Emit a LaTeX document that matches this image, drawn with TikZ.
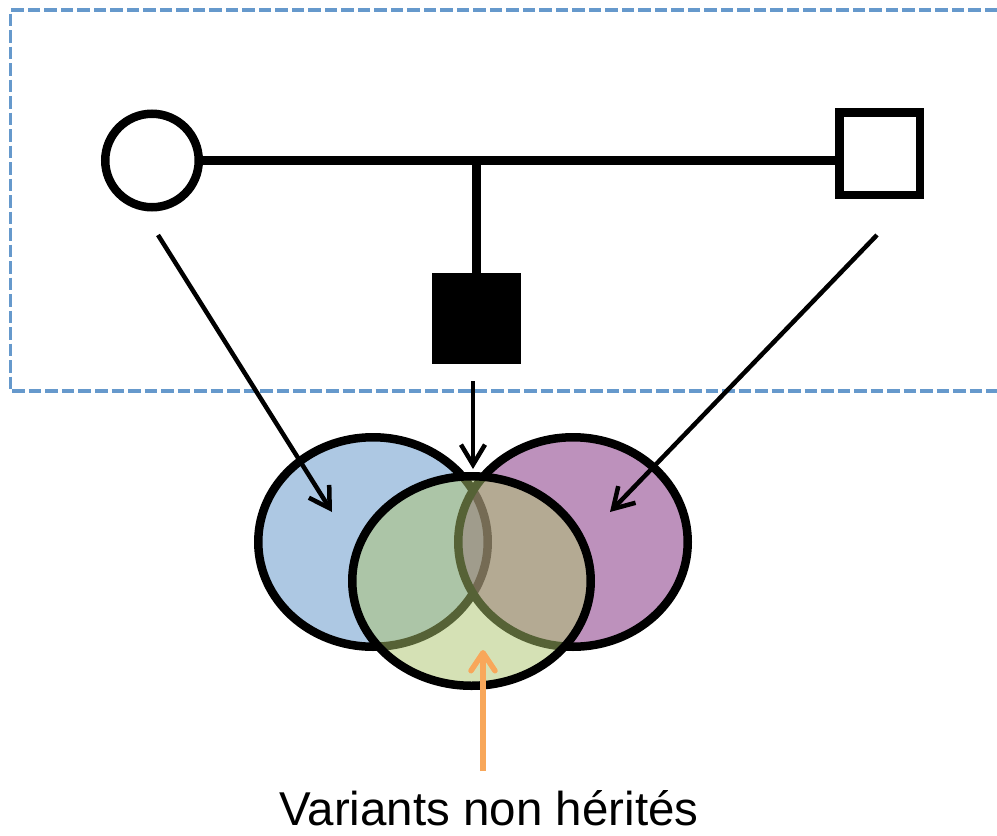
\documentclass[tikz,border=0pt]{standalone}
\usepackage{fontspec}
\setmainfont{Liberation Sans}
\usetikzlibrary{arrows.meta,shapes.geometric}
\definecolor{boxblue}{RGB}{102,153,204}
\definecolor{setblue}{RGB}{173,200,227}
\definecolor{setpurple}{RGB}{124,36,122}
\definecolor{setgreen}{RGB}{172,196,108}
\definecolor{pointer}{RGB}{248,167,90}
\begin{document}
\begin{tikzpicture}[x=1pt,y=-1pt,
  pedline/.style={line width=8.5pt},
  vset/.style={ellipse, draw=black, line width=8.5pt, inner sep=0pt,
               minimum width=229.5pt, minimum height=209.5pt},
  barb/.style={line width=4.5pt, -{Straight Barb[length=20pt,width=24pt]}},
  familybox/.style={draw=boxblue, line width=3.8pt, dash pattern=on 12.5pt off 4pt}
]
\useasboundingbox (0,0) rectangle (997,836);

% family frame (open on the right)
\draw[familybox] (997,10) -- (10.5,10) -- (10.5,391) -- (997,391);

% pedigree
\node[circle, draw, line width=8.5pt, inner sep=0pt, minimum size=93.5pt] (mother) at (152,160.5) {};
\node[rectangle, draw, line width=8.5pt, inner sep=0pt, minimum width=80.5pt, minimum height=82.5pt] (father) at (879.5,153.5) {};
\node[rectangle, fill=black, inner sep=0pt, minimum width=89pt, minimum height=91pt] (child) at (476.5,318.5) {};
\draw[pedline] (mother.east) -- (mother.east -| father.west);
\draw[pedline] (child.north) -- (child.north |- mother.east);

% variant sets
\node[vset, fill=setblue] (setM) at (373,542) {};
\node[vset, fill=setpurple, fill opacity=0.5] (setF) at (573,542) {};
\node[vset, fill=setgreen, fill opacity=0.5, minimum width=238.5pt] (setC) at (471.5,581) {};

% transmission arrows
\coordinate (mFrom) at (158,235);
\coordinate (mTo) at (332,512);
\coordinate (fFrom) at (877,235);
\coordinate (fTo) at (610,512);
\coordinate (cFrom) at (473,381);
\coordinate (cTo) at (473,469);
\draw[barb] (mFrom) -- (mTo);
\draw[barb] (fFrom) -- (fTo);
\draw[barb] (cFrom) -- (cTo);

% caption and pointer
\node[anchor=base, inner sep=0pt, font=\fontsize{47.5pt}{57pt}\selectfont] (caption) at (489,825) {Variants non hérités};
\coordinate (pFrom) at (483,771);
\coordinate (pTo) at (483,650);
\draw[pointer, line width=5.5pt, -{Straight Barb[length=18pt,width=24pt,round]}] (pFrom) -- (pTo);
\end{tikzpicture}
\end{document}
